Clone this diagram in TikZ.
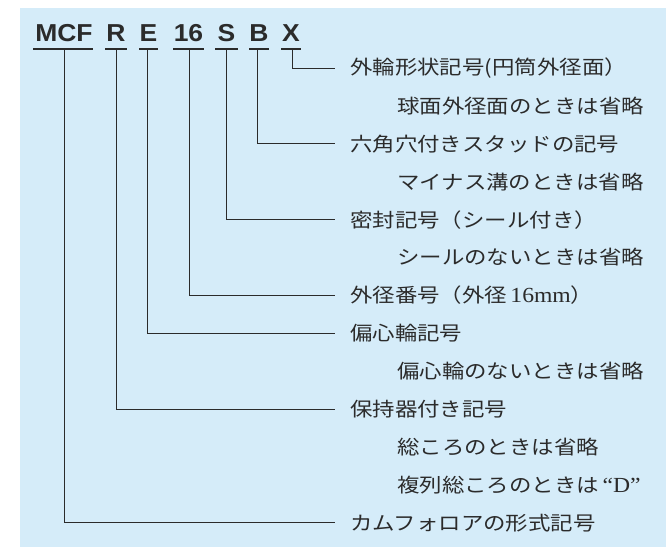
\documentclass[tikz,border=0pt]{standalone}
\usepackage{fontspec}
\setmainfont{Liberation Serif}
\newfontfamily\jp[FakeStretch=1.15]{Noto Sans CJK JP}
\newfontfamily\hdr[FakeStretch=1.08]{Liberation Sans}
\newfontfamily\lat[FakeStretch=1.1]{Liberation Serif}
\definecolor{bg}{HTML}{D5ECF9}
\definecolor{ink}{HTML}{2B2B2B}
\newcommand{\latbig}[1]{{\lat\fontsize{21.5}{22}\selectfont #1}}
\begin{document}
\begin{tikzpicture}[x=1pt,y=-1pt,
  hd/.style={inner sep=0pt,anchor=base,text=ink,font=\hdr\bfseries\fontsize{24.5}{24.5}\selectfont},
  lab/.style={inner sep=0pt,anchor=west,text=ink,font=\jp\fontsize{19.5}{20}\selectfont},
  ln/.style={draw=ink,line width=1pt},
  ul/.style={draw=ink,line width=1.4pt}]
\useasboundingbox (0,0) rectangle (666,547);
\fill[bg] (20,8) rectangle (666,547);
% header
\node[hd] (hM) at (64,41) {MCF};
\node[hd] (hR) at (116,41) {R};
\node[hd] (hE) at (148.5,41) {E};
\node[hd] (h16) at (188.5,41) {16};
\node[hd] (hS) at (226.5,41) {S};
\node[hd] (hB) at (259,41) {B};
\node[hd] (hX) at (291,41) {X};
% underlines
\draw[ul] (33,49) -- (93,49);
\draw[ul] (105,49) -- (127,49);
\draw[ul] (139,49) -- (158,49);
\draw[ul] (173,49) -- (204,49);
\draw[ul] (215,49) -- (238,49);
\draw[ul] (249,49) -- (269,49);
\draw[ul] (281,49) -- (301,49);
% underline tap points
\coordinate (uM) at (64,49);
\coordinate (uR) at (116,49);
\coordinate (uE) at (147,49);
\coordinate (u16) at (189,49);
\coordinate (uS) at (226,49);
\coordinate (uB) at (257,49);
\coordinate (uX) at (292,49);
% ends
\coordinate (eX) at (335,68);
\coordinate (eB) at (335,143.8);
\coordinate (eS) at (335,219.6);
\coordinate (e16) at (335,295.4);
\coordinate (eE) at (335,333.3);
\coordinate (eR) at (335,409.1);
\coordinate (eM) at (335,522.8);
\draw[ln] (uX) |- (eX);
\draw[ln] (uB) |- (eB);
\draw[ln] (uS) |- (eS);
\draw[ln] (u16) |- (e16);
\draw[ln] (uE) |- (eE);
\draw[ln] (uR) |- (eR);
\draw[ln] (uM) |- (eM);
% labels
\node[lab] (t1) at (350,68) {外輪形状記号(円筒外径面）};
\node[lab] (t2) at (397,105.9) {球面外径面のときは省略};
\node[lab] (t3) at (350,143.8) {六角穴付きスタッドの記号};
\node[lab] (t4) at (397,181.7) {マイナス溝のときは省略};
\node[lab] (t5) at (350,219.6) {密封記号（シール付き）};
\node[lab] (t6) at (397,257.5) {シールのないときは省略};
\node[lab] (t7) at (350,295.4) {外径番号（外径\,\latbig{16mm}）};
\node[lab] (t8) at (350,333.3) {偏心輪記号};
\node[lab] (t9) at (397,371.2) {偏心輪のないときは省略};
\node[lab] (t10) at (350,409.1) {保持器付き記号};
\node[lab] (t11) at (397,447) {総ころのときは省略};
\node[lab] (t12) at (397,484.9) {複列総ころのときは\latbig{\,“D”}};
\node[lab] (t13) at (350,522.8) {カムフォロアの形式記号};
\end{tikzpicture}
\end{document}
